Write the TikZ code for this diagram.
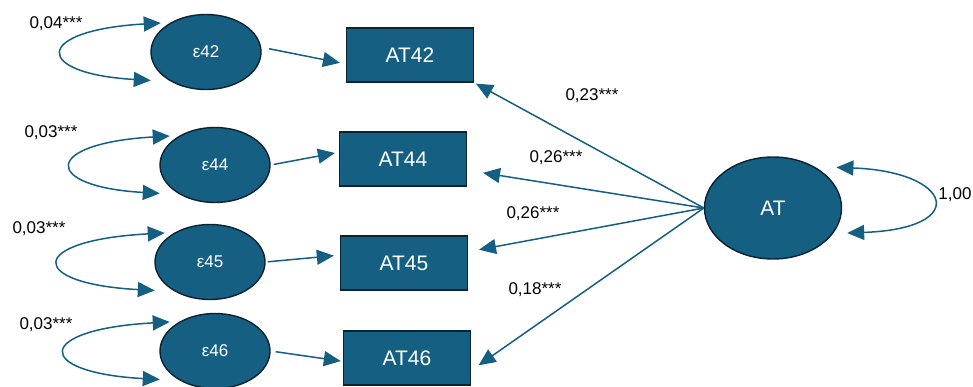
\documentclass[tikz,border=0pt]{standalone}
\usepackage{fontspec}
\setmainfont{Liberation Sans}
\usetikzlibrary{arrows.meta,shapes.geometric}
\definecolor{semteal}{HTML}{156082}
\definecolor{semedge}{HTML}{0B2230}

\begin{document}
\begin{tikzpicture}[x=1pt, y=-1pt,
      latent/.style={ellipse, draw=semedge, line width=1.4pt, fill=semteal,
                     text=white, inner sep=0pt},
      err/.style={latent, minimum width=110pt, minimum height=75pt,
                  font=\fontsize{17}{20}\selectfont},
      obs/.style={draw=semedge, line width=1.4pt, fill=semteal, text=white,
                  minimum width=127pt, minimum height=54pt,
                  font=\fontsize{21}{24}\selectfont},
      coef/.style={font=\fontsize{17}{20}\selectfont, inner sep=0pt},
      arr/.style={-{Triangle[length=17pt,width=15pt]}, line width=1.5pt, color=semteal},
      cov/.style={{Triangle[length=17pt,width=15pt]}-{Triangle[length=17pt,width=15pt]},
                  line width=1.5pt, color=semteal}
  ]
    \path[use as bounding box, fill=white] (0,0) rectangle (973,387);

    % error terms
    \node[err] (e42) at (206,52)  {ε42};
    \node[err] (e44) at (215,165) {ε44};
    \node[err] (e45) at (210,262) {ε45};
    \node[err] (e46) at (215,351) {ε46};

    % indicators
    \node[obs] (AT42) at (410,55)  {AT42};
    \node[obs] (AT44) at (403,159) {AT44};
    \node[obs] (AT45) at (404,263) {AT45};
    \node[obs] (AT46) at (407,358) {AT46};

    % latent factor
    \node[latent, minimum width=137pt, minimum height=102pt,
          font=\fontsize{21}{24}\selectfont] (AT) at (773,208) {AT};

    % errors -> indicators
    \draw[arr, shorten <=8pt, shorten >=6pt] (e42.5) -- (AT42.188);
    \draw[arr, shorten <=3pt, shorten >=4pt] (e44.east) -- (AT44.174);
    \draw[arr, shorten <=2pt, shorten >=6pt] (e45.east) -- (AT45.173);
    \draw[arr, shorten <=5pt, shorten >=2pt] (e46.east) -- (AT46.183);

    % loadings
    \draw[arr, shorten >=2pt]  (AT.west) -- (AT42.south east);
    \draw[arr, shorten >=16pt] (AT.west) -- (AT44.-10);
    \draw[arr, shorten >=11pt] (AT.west) -- (AT45.10);
    \draw[arr, shorten >=9pt]  (AT.west) -- (AT46.-11);

    % variances
    \draw[cov, shorten <=10pt, shorten >=20pt] (e42.140) .. controls +(-138,8) and +(-138,-8) .. (e42.220);
    \draw[cov, shorten <=10pt, shorten >=20pt] (e44.140) .. controls +(-138,8) and +(-138,-8) .. (e44.220);
    \draw[cov, shorten <=10pt, shorten >=20pt] (e45.140) .. controls +(-148,8) and +(-148,-8) .. (e45.220);
    \draw[cov, shorten <=10pt, shorten >=20pt] (e46.140) .. controls +(-146,8) and +(-146,-8) .. (e46.220);
    \draw[cov, shorten <=22pt, shorten >=14pt] (AT.45) .. controls +(138,5) and +(138,-5) .. (AT.-23);

    % coefficients
    \node[coef] (v42) at (56,24)  {0,04***};
    \node[coef] (v44) at (51,133) {0,03***};
    \node[coef] (v45) at (39,229) {0,03***};
    \node[coef] (v46) at (46,325) {0,03***};
    \node[coef] (g42) at (592,96)  {0,23***};
    \node[coef] (g44) at (556,158) {0,26***};
    \node[coef] (g45) at (533,214) {0,26***};
    \node[coef] (g46) at (535,290) {0,18***};
    \node[coef] (vAT) at (955,195) {1,00};
  \end{tikzpicture}
\end{document}
